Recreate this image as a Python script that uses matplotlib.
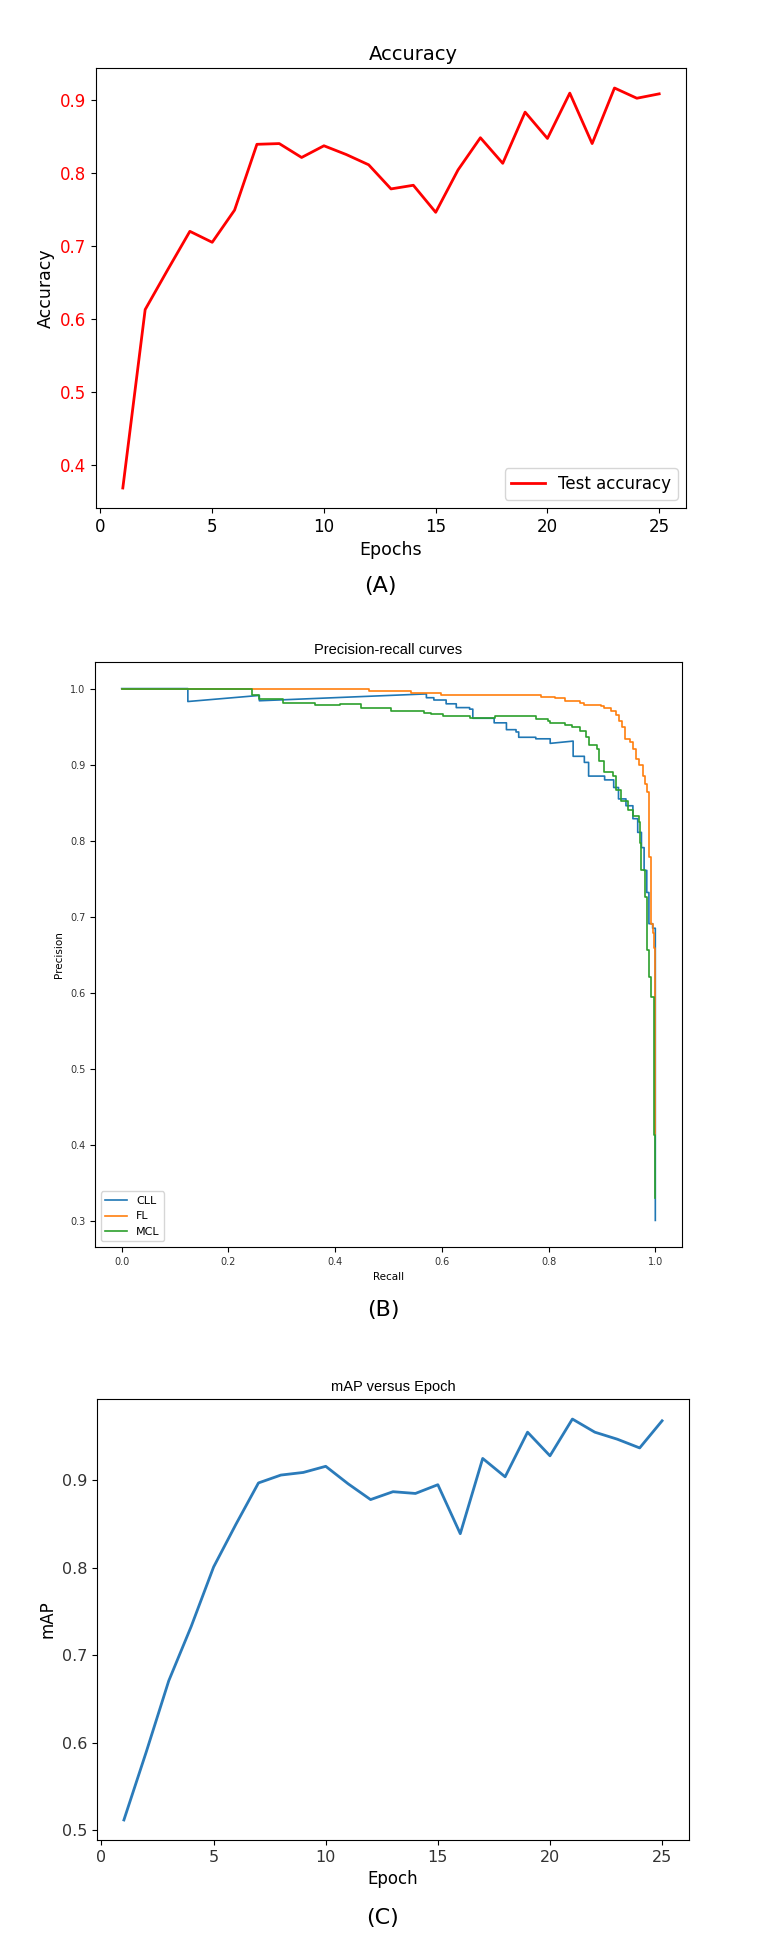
import matplotlib
matplotlib.use("Agg")
import matplotlib.pyplot as plt

# (A) test accuracy per epoch
epochs = list(range(1, 26))
test_accuracy = [0.369, 0.613, 0.667, 0.720, 0.705, 0.749, 0.839, 0.840, 0.821, 0.837,
                 0.825, 0.811, 0.778, 0.783, 0.746, 0.804, 0.848, 0.813, 0.883, 0.847,
                 0.909, 0.840, 0.916, 0.902, 0.908]

# (B) precision-recall curves
# CLL is given as a polyline with its corners, since it has sloped parts
cll_recall = [0.0, 0.124, 0.124, 0.258, 0.258, 0.571, 0.571, 0.585, 0.585, 0.608, 0.608,
              0.627, 0.627, 0.652, 0.652, 0.658, 0.658, 0.698, 0.698, 0.721, 0.721, 0.739,
              0.739, 0.744, 0.744, 0.776, 0.776, 0.803, 0.803, 0.846, 0.846, 0.867, 0.867,
              0.875, 0.875, 0.905, 0.905, 0.922, 0.922, 0.931, 0.931, 0.945, 0.945, 0.958,
              0.958, 0.967, 0.967, 0.974, 0.974, 0.979, 0.979, 0.984, 0.984, 0.988, 0.988,
              0.995, 0.995, 1.0, 1.0, 1.0]
cll_precision = [1.0, 1.0, 0.983, 0.991, 0.984, 0.993, 0.988, 0.988, 0.985, 0.985, 0.980,
                 0.980, 0.975, 0.975, 0.973, 0.973, 0.961, 0.961, 0.955, 0.955, 0.946, 0.946,
                 0.943, 0.943, 0.936, 0.936, 0.934, 0.934, 0.928, 0.931, 0.911, 0.911, 0.903,
                 0.903, 0.885, 0.885, 0.880, 0.880, 0.870, 0.870, 0.855, 0.855, 0.846, 0.846,
                 0.829, 0.829, 0.811, 0.811, 0.791, 0.791, 0.761, 0.761, 0.732, 0.732, 0.691,
                 0.691, 0.685, 0.685, 0.48, 0.301]

# FL and MCL are step curves (value holds until the next recall)
fl_recall = [0.0, 0.464, 0.542, 0.598, 0.698, 0.785, 0.812, 0.830, 0.858, 0.867, 0.899, 0.903,
             0.917, 0.926, 0.932, 0.938, 0.943, 0.952, 0.958, 0.963, 0.970, 0.976, 0.981,
             0.985, 0.988, 0.991, 0.995, 0.997, 0.999, 1.0]
fl_precision = [1.0, 0.997, 0.994, 0.992, 0.991, 0.989, 0.987, 0.984, 0.981, 0.978, 0.977, 0.974,
                0.970, 0.965, 0.958, 0.949, 0.934, 0.930, 0.920, 0.908, 0.899, 0.885, 0.874,
                0.864, 0.779, 0.691, 0.679, 0.659, 0.597, 0.413]

mcl_recall = [0.0, 0.244, 0.258, 0.303, 0.362, 0.41, 0.449, 0.505, 0.54, 0.567, 0.58, 0.602,
              0.652, 0.70, 0.776, 0.798, 0.803, 0.830, 0.844, 0.858, 0.871, 0.876, 0.890,
              0.894, 0.903, 0.920, 0.926, 0.935, 0.949, 0.958, 0.969, 0.972, 0.974, 0.981,
              0.985, 0.988, 0.991, 0.997, 1.0]
mcl_precision = [1.0, 0.992, 0.986, 0.981, 0.978, 0.980, 0.974, 0.970, 0.971, 0.968, 0.966, 0.964,
                 0.962, 0.964, 0.960, 0.958, 0.955, 0.952, 0.949, 0.944, 0.937, 0.926, 0.920,
                 0.905, 0.890, 0.885, 0.867, 0.852, 0.841, 0.832, 0.825, 0.797, 0.761, 0.726,
                 0.656, 0.621, 0.594, 0.413, 0.33]

# (C) mAP per epoch
map_values = [0.512, 0.590, 0.671, 0.733, 0.801, 0.850, 0.897, 0.906, 0.909, 0.916,
              0.896, 0.878, 0.887, 0.885, 0.895, 0.839, 0.925, 0.904, 0.955, 0.928,
              0.970, 0.955, 0.947, 0.937, 0.968]

W, H = 765, 1939
fig = plt.figure(figsize=(W / 100, H / 100), dpi=100)


def box(left, top, right, bottom):
    return [left / W, 1 - bottom / H, (right - left) / W, (bottom - top) / H]


# --- (A) ---
ax1 = fig.add_axes(box(96, 68, 686, 508))
ax1.plot(epochs, test_accuracy, color='red', lw=2, label='Test accuracy')
ax1.set_title('Accuracy', fontsize=14, x=0.538)
ax1.set_xlabel('Epochs', fontsize=12.5)
ax1.set_ylabel('Accuracy', fontsize=12.5)
ax1.tick_params(labelsize=12)
ax1.tick_params(axis='y', labelcolor='red')
ax1.legend(loc='lower right', fontsize=12)

# --- (B) ---
ax2 = fig.add_axes(box(95, 662, 682, 1247))
ax2.plot(cll_recall, cll_precision, color='#1f77b4', lw=1.2, label='CLL')
ax2.plot(fl_recall, fl_precision, drawstyle='steps-post', color='#ff7f0e', lw=1.2, label='FL')
ax2.plot(mcl_recall, mcl_precision, drawstyle='steps-post', color='#2ca02c', lw=1.2, label='MCL')
ax2.set_title('Precision-recall curves', fontsize=10.5, family='Liberation Sans')
ax2.set_xlabel('Recall', fontsize=7.5)
ax2.set_ylabel('Precision', fontsize=7.5)
ax2.tick_params(labelsize=7, labelcolor='#333333')
ax2.legend(loc='lower left', fontsize=8)

# --- (C) ---
ax3 = fig.add_axes(box(97, 1399, 689, 1840))
ax3.plot(epochs, map_values, color='#2b7bba', lw=2)
ax3.set_title('mAP versus Epoch', fontsize=10.5, family='Liberation Sans')
ax3.set_xlabel('Epoch', fontsize=12)
ax3.set_ylabel('mAP', fontsize=12)
ax3.tick_params(labelsize=11.5, labelcolor='#333333')

# panel letters
fig.text(380 / W, 1 - 586 / H, '(A)', fontsize=16, ha='center', va='center')
fig.text(383 / W, 1 - 1310 / H, '(B)', fontsize=16, ha='center', va='center')
fig.text(383 / W, 1 - 1918 / H, '(C)', fontsize=16, ha='center', va='center')

fig.savefig('out.png', dpi=100)
